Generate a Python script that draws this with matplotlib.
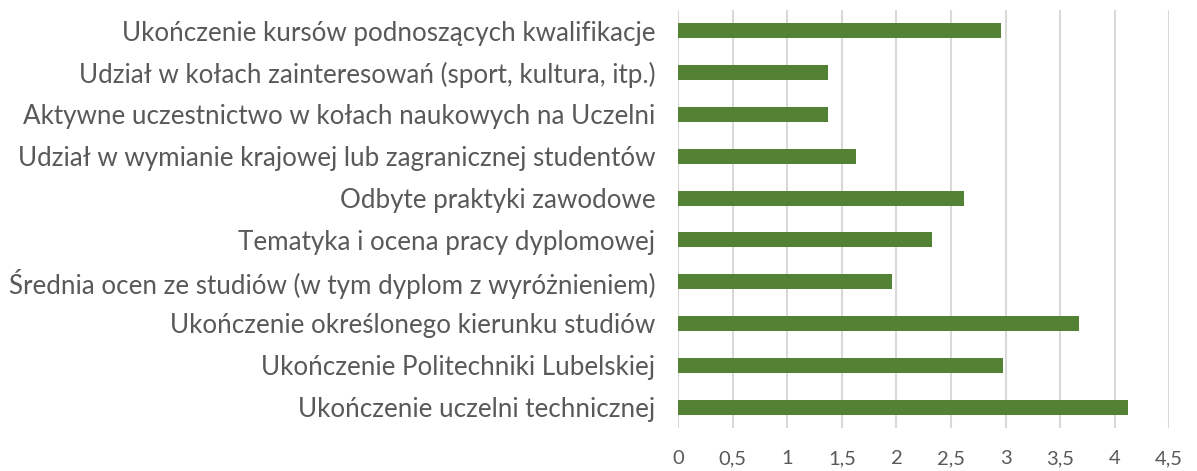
import numpy as np
import matplotlib
matplotlib.use("Agg")
import matplotlib.pyplot as plt

# data (top to bottom as shown in the chart)
categories = [
    "Ukończenie kursów podnoszących kwalifikacje",
    "Udział w kołach zainteresowań (sport, kultura, itp.)",
    "Aktywne uczestnictwo w kołach naukowych na Uczelni",
    "Udział w wymianie krajowej lub zagranicznej studentów",
    "Odbyte praktyki zawodowe",
    "Tematyka i ocena pracy dyplomowej",
    "Średnia ocen ze studiów (w tym dyplom z wyróżnieniem)",
    "Ukończenie określonego kierunku studiów",
    "Ukończenie Politechniki Lubelskiej",
    "Ukończenie uczelni technicznej",
]
values = [2.96, 1.37, 1.37, 1.63, 2.62, 2.33, 1.96, 3.67, 2.98, 4.12]
xticks = [0, 0.5, 1, 1.5, 2, 2.5, 3, 3.5, 4, 4.5]
xtick_labels = ["0", "0,5", "1", "1,5", "2", "2,5", "3", "3,5", "4", "4,5"]

BAR = "#548235"
TEXT = "#595959"
GRID = "#d9d9d9"

plt.rcParams["font.family"] = ["Lato", "DejaVu Sans"]

fig = plt.figure(figsize=(11.97, 4.71), dpi=100)
ax = fig.add_axes([0.5667, 0.0913, 0.41, 0.8875])

y = np.arange(len(categories))[::-1]
ax.barh(y, values, height=0.36, color=BAR, zorder=3)

ax.set_xlim(0, 4.5)
ax.set_ylim(-0.5, len(categories) - 0.5)
ax.set_xticks(xticks)
ax.set_xticklabels(xtick_labels)
ax.set_yticks(y)
ax.set_yticklabels(categories)

ax.grid(axis="x", color=GRID, linewidth=1.5, zorder=0)
for s in ax.spines.values():
    s.set_visible(False)
ax.tick_params(axis="both", length=0, colors=TEXT)
ax.tick_params(axis="y", pad=16.5, labelsize=18.75)
ax.tick_params(axis="x", pad=16, labelsize=14.5)

fig.savefig("out.png", dpi=100)
